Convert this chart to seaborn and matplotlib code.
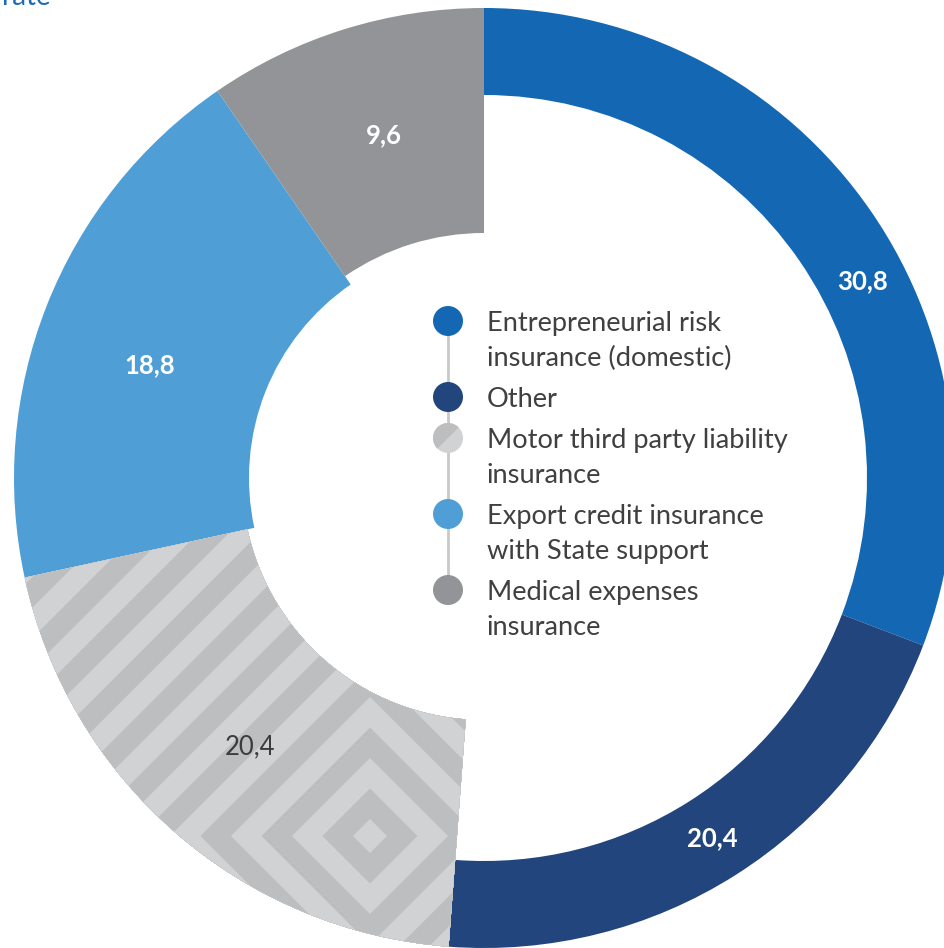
import numpy as np
import matplotlib
matplotlib.use("Agg")
import matplotlib.pyplot as plt
import seaborn as sns
from matplotlib.patches import Polygon, Circle, Wedge

# ---------------- data ----------------
categories = [
    "Entrepreneurial risk\ninsurance (domestic)",
    "Other",
    "Motor third party liability\ninsurance",
    "Export credit insurance\nwith State support",
    "Medical expenses\ninsurance",
]
values = [30.8, 20.4, 20.4, 18.8, 9.6]
value_labels = ["30,8", "20,4", "20,4", "18,8", "9,6"]

# ---------------- style ----------------
colors = ["#1468b3", "#21457c", "#d1d2d4", "#4f9fd6", "#939498"]
label_colors = ["white", "white", "#3c3c3c", "white", "white"]
label_weights = ["bold", "bold", "normal", "bold", "bold"]
label_angle_shift = [7, 0, 0, -3, 1]   # degrees, placement tweak
hatch_dark = "#bdbec0"
inner_radii = [383, 383, 242, 235, 245]
W, H = 945, 948
CX, CY = 484, H - 478
R_OUT = 470

sns.set_theme(style="white")
plt.rcParams["font.family"] = ["Lato", "DejaVu Sans"]

fig = plt.figure(figsize=(W / 100, H / 100), dpi=100)
ax = fig.add_axes([0, 0, 1, 1])

wedges, _ = ax.pie(values, colors=colors, startangle=90, counterclock=False,
                   radius=R_OUT, center=(CX, CY),
                   wedgeprops=dict(linewidth=0, antialiased=True))
for w, rin in zip(wedges, inner_radii):
    w.set_width(R_OUT - rin)

# maze-like diamond pattern for the motor segment
hw = wedges[2]
pcx, pcy = 370, H - 836
d0, step = 17, 30.5
ks = list(range(0, 26))
for k in reversed(ks):
    d = d0 + step * k
    col = hatch_dark if k % 2 == 1 else colors[2]
    poly = Polygon([(pcx - d, pcy), (pcx, pcy + d), (pcx + d, pcy), (pcx, pcy - d)],
                   closed=True, facecolor=col, edgecolor="none", zorder=2)
    ax.add_patch(poly)
    poly.set_clip_path(hw)

# value labels
cum = np.cumsum([0] + values)
total = sum(values)
for i, v in enumerate(values):
    mid = (cum[i] + v / 2) / total * 2 * np.pi + np.deg2rad(label_angle_shift[i])
    r = (R_OUT + inner_radii[i]) / 2
    x = CX + r * np.sin(mid)
    y = CY + r * np.cos(mid)
    ax.text(x, y, value_labels[i], ha="center", va="center", fontsize=18.5,
            color=label_colors[i], fontweight=label_weights[i], zorder=5)

# legend in centre
leg_x_dot, leg_x_txt = 448, 487
line_h, gap = 35, 6
y_img = 321
dot_ys = []
for i, cat in enumerate(categories):
    lines = cat.split("\n")
    yd = H - y_img
    dot_ys.append(yd)
    for j, ln in enumerate(lines):
        ax.text(leg_x_txt, H - (y_img + 10 + line_h * j), ln, ha="left",
                va="baseline", fontsize=19.6, color="#404040", zorder=6)
    y_img += line_h * len(lines) + gap

ax.plot([leg_x_dot, leg_x_dot], [dot_ys[0], dot_ys[-1]], color="#c9c9c9",
        lw=2, zorder=5, solid_capstyle="butt")
for i, yd in enumerate(dot_ys):
    if i == 2:
        ax.add_patch(Circle((leg_x_dot, yd), 15, facecolor=colors[2],
                            edgecolor="none", zorder=7))
        ax.add_patch(Wedge((leg_x_dot, yd), 15, 45, 225, facecolor=hatch_dark,
                           edgecolor="none", zorder=8))
    else:
        ax.add_patch(Circle((leg_x_dot, yd), 15, facecolor=colors[i],
                            edgecolor="none", zorder=7))

# cut-off title remnant (visible only partially, as in the source)
ax.text(2, H - 5, "rate", ha="left", va="baseline", fontsize=20,
        color="#1a6bb5", zorder=6)

ax.set_xlim(0, W)
ax.set_ylim(0, H)
ax.set_aspect("auto")
ax.axis("off")

fig.savefig("out.png", dpi=100)
